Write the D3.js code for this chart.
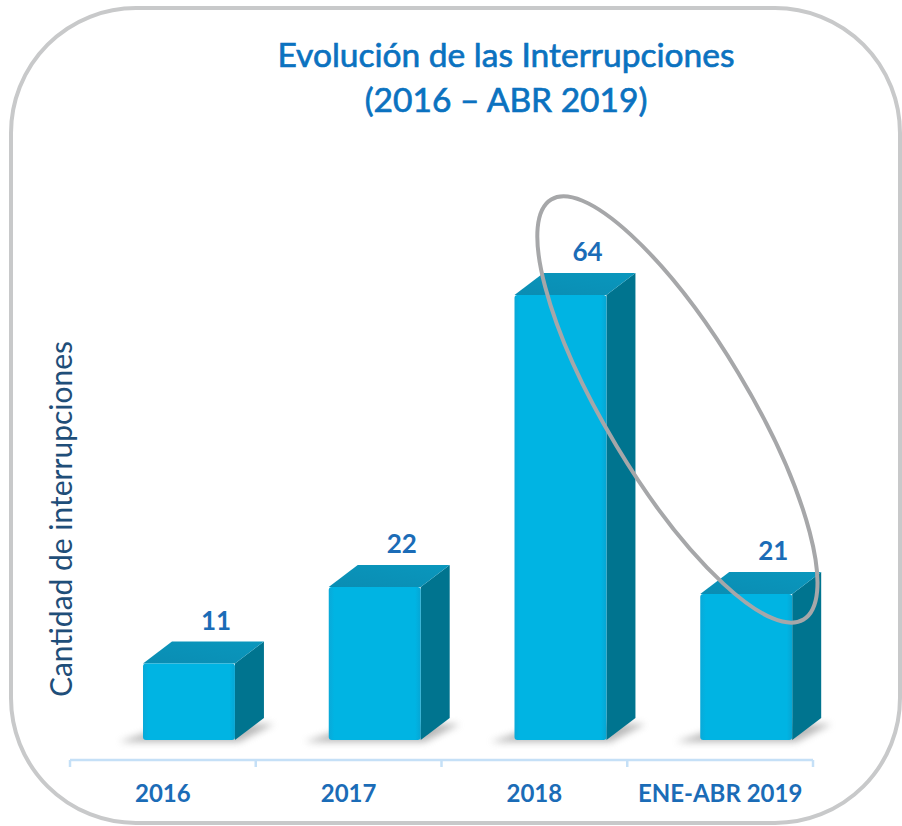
<!DOCTYPE html>
<html>
<head>
<meta charset="utf-8">
<script src="https://cdn.jsdelivr.net/npm/d3@7"></script>
<style>
  html, body { margin: 0; padding: 0; background: #fff; }
  svg { display: block; }
</style>
</head>
<body>
<svg id="chart"></svg>
<script>
var categories = ["2016", "2017", "2018", "ENE-ABR 2019"];
var values = [11, 22, 64, 21];
var titleLines = ["Evolución de las Interrupciones", "(2016 – ABR 2019)"];
var yTitle = "Cantidad de interrupciones";
// bars circled by the grey oval
var highlighted = ["2018", "ENE-ABR 2019"];

var width = 902, height = 826;
var baseY = 740, topY = 295;
var depthX = 29, depthY = 22;

var svg = d3.select("#chart")
  .attr("width", width)
  .attr("height", height);

var defs = svg.append("defs");

var front = defs.append("linearGradient").attr("id", "front")
  .attr("x1", 0).attr("x2", 1).attr("y1", 0).attr("y2", 0);
front.append("stop").attr("offset", "0%").attr("stop-color", "#0aa9d8");
front.append("stop").attr("offset", "6%").attr("stop-color", "#00b4e3");
front.append("stop").attr("offset", "94%").attr("stop-color", "#00b4e3");
front.append("stop").attr("offset", "100%").attr("stop-color", "#06a6d4");

var topG = defs.append("linearGradient").attr("id", "topface")
  .attr("x1", 0).attr("x2", 1).attr("y1", 1).attr("y2", 0);
topG.append("stop").attr("offset", "0%").attr("stop-color", "#0a8db3");
topG.append("stop").attr("offset", "100%").attr("stop-color", "#0a97bd");

var blur = defs.append("filter").attr("id", "shadow")
  .attr("x", "-50%").attr("y", "-200%").attr("width", "200%").attr("height", "500%");
blur.append("feGaussianBlur").attr("stdDeviation", 3.5);

// outer rounded frame
svg.append("rect")
  .attr("x", 11).attr("y", 8)
  .attr("width", 889).attr("height", 815)
  .attr("rx", 125).attr("ry", 125)
  .attr("fill", "#fff")
  .attr("stroke", "#c8c9ca")
  .attr("stroke-width", 4);

var x = d3.scaleBand()
  .domain(categories)
  .range([70, 813]);

var y = d3.scaleLinear()
  .domain([0, d3.max(values)])
  .range([baseY, topY]);

var bw = x.bandwidth();
var barOff = bw * 0.393, barW = bw * 0.495;

var data = categories.map(function(c, i) { return {cat: c, value: values[i]}; });

// title
svg.append("g").selectAll("text")
  .data(titleLines)
  .enter().append("text")
    .attr("x", 506)
    .attr("y", function(d, i) { return 67 + i * 45; })
    .attr("text-anchor", "middle")
    .attr("font-family", "Lato, 'Open Sans', sans-serif")
    .attr("font-size", 33.5)
    .attr("fill", "#0b72c0")
    .attr("stroke", "#0b72c0")
    .attr("stroke-width", 0.7)
    .text(function(d) { return d; });

// y axis title
svg.append("text")
  .attr("transform", "translate(72,519) rotate(-90)")
  .attr("text-anchor", "middle")
  .attr("font-family", "Lato, 'Open Sans', sans-serif")
  .attr("font-size", 30)
  .attr("fill", "#1f4e79")
  .text(yTitle);

// bars
var bars = svg.append("g").attr("class", "bars")
  .selectAll("g")
  .data(data)
  .enter().append("g");

bars.append("path")
  .attr("filter", "url(#shadow)")
  .attr("fill", "#8a8a8a")
  .attr("opacity", 0.6)
  .attr("d", function(d) {
    var x0 = x(d.cat) + barOff;
    return "M" + (x0 - 24) + "," + (baseY + 2) +
      "L" + (x0 + barW + 4) + "," + (baseY + 2) +
      "L" + (x0 + barW + depthX + 10) + "," + (baseY - 16) +
      "L" + (x0 + depthX) + "," + (baseY - 16) + "Z";
  });

// side face
bars.append("path")
  .attr("fill", "#00748f")
  .attr("d", function(d) {
    var x1 = x(d.cat) + barOff + barW;
    return "M" + x1 + "," + y(d.value) +
      "L" + (x1 + depthX) + "," + (y(d.value) - depthY) +
      "L" + (x1 + depthX) + "," + (baseY - depthY) +
      "L" + x1 + "," + baseY + "Z";
  });

// top face
bars.append("path")
  .attr("fill", "url(#topface)")
  .attr("d", function(d) {
    var x0 = x(d.cat) + barOff;
    var t = y(d.value);
    return "M" + x0 + "," + t +
      "L" + (x0 + depthX) + "," + (t - depthY) +
      "L" + (x0 + barW + depthX) + "," + (t - depthY) +
      "L" + (x0 + barW) + "," + t + "Z";
  });

// front face
bars.append("rect")
  .attr("x", function(d) { return x(d.cat) + barOff; })
  .attr("y", function(d) { return y(d.value); })
  .attr("width", barW)
  .attr("height", function(d) { return baseY - y(d.value); })
  .attr("rx", 3)
  .attr("fill", "url(#front)");

// value labels
bars.append("text")
  .attr("x", function(d) { return x(d.cat) + barOff + barW / 2 + 27; })
  .attr("y", function(d) { return y(d.value) - depthY - 12; })
  .attr("text-anchor", "middle")
  .attr("font-family", "Lato, 'Open Sans', sans-serif")
  .attr("font-weight", "bold")
  .attr("font-size", 26)
  .attr("fill", "#1b6cb7")
  .text(function(d) { return d.value; });

// x axis: light line with ticks at band edges
var axisY = 760;
var axisG = svg.append("g").attr("class", "x-axis");
axisG.append("line")
  .attr("x1", x.range()[0]).attr("x2", x.range()[1])
  .attr("y1", axisY).attr("y2", axisY)
  .attr("stroke", "#c5e0f7").attr("stroke-width", 2.5);
axisG.selectAll(".edge")
  .data(categories.map(function(c) { return x(c); }).concat([x.range()[1]]))
  .enter().append("line")
    .attr("class", "edge")
    .attr("x1", function(d) { return d; }).attr("x2", function(d) { return d; })
    .attr("y1", axisY).attr("y2", axisY + 7)
    .attr("stroke", "#c5e0f7").attr("stroke-width", 2.5);

var xAxis = svg.append("g")
  .attr("transform", "translate(0," + axisY + ")")
  .call(d3.axisBottom(x).tickSize(0).tickPadding(0));
xAxis.select(".domain").remove();
xAxis.selectAll("text")
  .attr("y", 42)
  .attr("dy", 0)
  .attr("font-family", "Lato, 'Open Sans', sans-serif")
  .attr("font-weight", "bold")
  .attr("font-size", 24)
  .attr("fill", "#1b6cb7");

// grey oval around the last two bars
var hl = data.filter(function(d) { return highlighted.indexOf(d.cat) >= 0; });
var cx = (x(hl[0].cat) + x(hl[1].cat)) / 2 + bw * 0.77;
var cy = (y(hl[0].value) + y(hl[1].value)) / 2 - 35;
svg.append("ellipse")
  .attr("transform", "translate(" + cx + "," + cy + ") rotate(59)")
  .attr("rx", 245).attr("ry", 71)
  .attr("fill", "none")
  .attr("stroke", "#a6a7a9")
  .attr("stroke-width", 4);
</script>
</body>
</html>
